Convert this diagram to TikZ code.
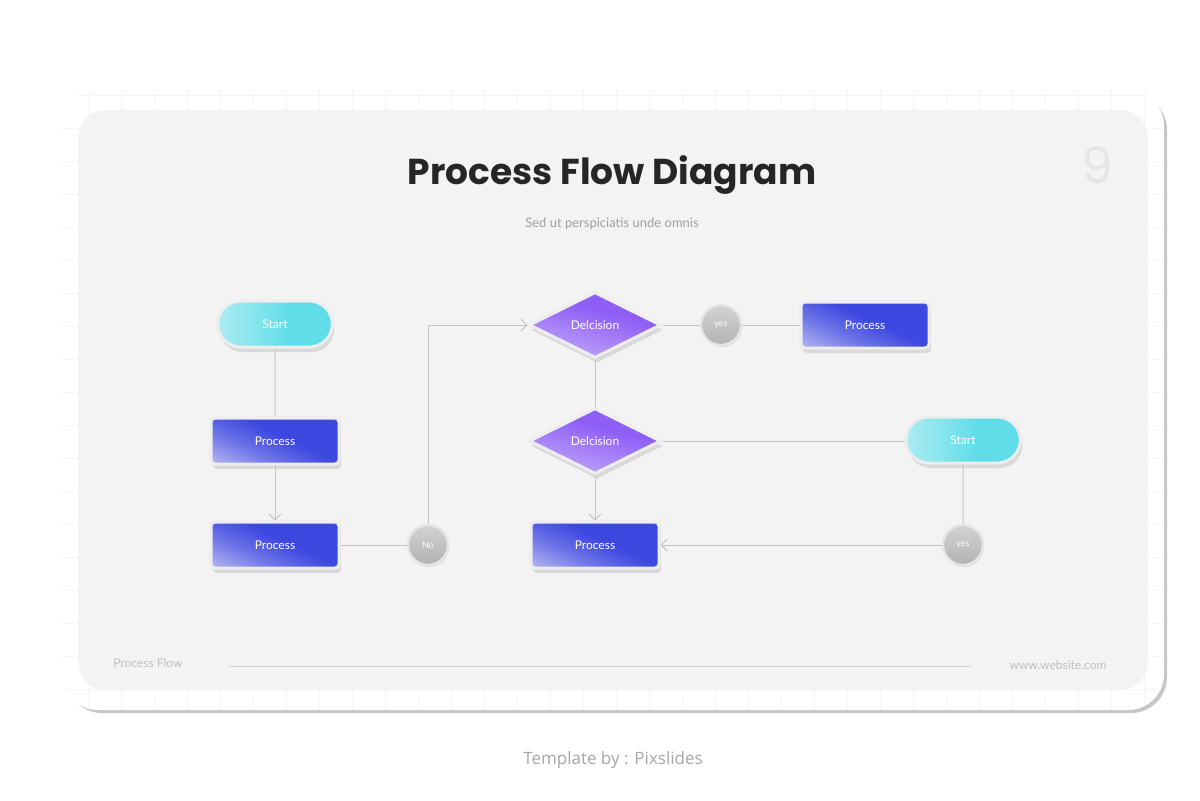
\documentclass[tikz,border=0pt]{standalone}
\usepackage{fontspec}
\setmainfont{Lato}
\newfontfamily\titlefont{Poppins}
\newfontfamily\footfont{Open Sans}
\usetikzlibrary{shapes.geometric,shapes.misc,shadows,arrows.meta,positioning}
\definecolor{cyanA}{HTML}{5FDDE8}
\definecolor{cyanB}{HTML}{E8F8FA}
\definecolor{blueA}{HTML}{3D48E0}
\definecolor{blueB}{HTML}{F2F0FA}
\definecolor{violA}{HTML}{8E5EF6}
\definecolor{violB}{HTML}{E8E0FC}
\definecolor{wire}{HTML}{C4C4C4}
\pgfdeclareverticalshading{procshade}{100bp}{color(0bp)=(blueB); color(38bp)=(blueA!75!blueB); color(55bp)=(blueA); color(100bp)=(blueA)}
\pgfdeclarehorizontalshading{startshade}{100bp}{color(0bp)=(cyanB); color(40bp)=(cyanA!70!cyanB); color(56bp)=(cyanA); color(100bp)=(cyanA)}
\pgfdeclareverticalshading{decshade}{100bp}{color(0bp)=(violB); color(35bp)=(violA!60!violB); color(60bp)=(violA); color(100bp)=(violA)}
\tikzset{
  base/.style={draw=white!93!black, line width=1.5pt, text=white,
    font=\fontsize{6}{7}\selectfont, drop shadow={shadow xshift=1pt, shadow yshift=-2.5pt, opacity=0.22}},
  startbox/.style={base, rounded rectangle, minimum width=64pt, minimum height=23pt,
    shading=startshade, shading angle=0},
  procbox/.style={base, rectangle, rounded corners=2pt, minimum width=64pt, minimum height=23pt,
    shading=procshade, shading angle=-25},
  decbox/.style={base, diamond, aspect=2, inner sep=0pt, minimum width=66pt, minimum height=33pt,
    shading=decshade, shading angle=-15},
  tagdot/.style={circle, minimum size=20pt, inner sep=0pt, draw=white!90!black, line width=1.2pt,
    top color=gray!35, bottom color=gray!60, text=white, font=\fontsize{4.5}{5}\selectfont,
    drop shadow={shadow xshift=0.5pt, shadow yshift=-1pt, opacity=0.2}},
  link/.style={draw=wire, line width=0.5pt},
  arr/.style={link, ->, >={Straight Barb[length=3pt,width=6pt]}}
}
\begin{document}
\begin{tikzpicture}[x=0.5pt,y=-0.5pt]
  \useasboundingbox (0,0) rectangle (1200,800);
  \fill[white] (0,0) rectangle (1200,800);
  % card
  \fill[gray!45, rounded corners=18pt] (66,94) rectangle (1167,713);
  \fill[white, rounded corners=18pt] (62,90) rectangle (1164,710);
  \begin{scope}
    \clip[rounded corners=18pt] (62,90) rectangle (1164,710);
    \foreach \gx in {88,121,...,1164} \draw[gray!8] (\gx,90) -- (\gx,710);
    \foreach \gy in {95,128,...,710} \draw[gray!8] (62,\gy) -- (1164,\gy);
  \end{scope}
  \fill[gray!10, opacity=0.9, rounded corners=14pt] (78,110) rectangle (1148,690);
  % texts
  \node (title) at (612,175) {\titlefont\bfseries\fontsize{18}{21}\selectfont\color{black!85} Process Flow Diagram};
  \node[text=gray!75, font=\fontsize{6.5}{8}\selectfont] (sub) at (612,224) {Sed ut perspiciatis unde omnis};
  \node[text=gray!20, font=\titlefont\fontsize{25}{28}\selectfont] (num) at (1097,165) {9};
  \node[text=gray!50, font=\fontsize{6}{7}\selectfont] (foot1) at (148,663) {Process Flow};
  \node[text=gray!50, font=\fontsize{6}{7}\selectfont] (foot2) at (1058,665) {www.website.com};
  \draw[gray!35, line width=0.4pt] (229,666) -- (971,666);
  \node[text=gray!70, font=\footfont\fontsize{8.5}{10}\selectfont] (credit) at (613,760) {Template by : Pixslides};
  % nodes
  \node[startbox] (start1) at (275,324) {Start};
  \node[procbox] (proc1) at (275,441) {Process};
  \node[procbox] (proc2) at (275,545) {Process};
  \node[tagdot] (no) at (428,545) {No};
  \node[decbox] (dec1) at (595,325) {Delcision};
  \node[tagdot] (yes1) at (721,325) {yes};
  \node[procbox] (proc3) at (865,325) {Process};
  \node[decbox] (dec2) at (595,441) {Delcision};
  \node[startbox] (start2) at (963,440) {Start};
  \node[tagdot] (yes2) at (963,545) {yes};
  \node[procbox] (proc4) at (595,545) {Process};
  % connectors
  \draw[link] (start1) -- (proc1);
  \draw[arr] (proc1) -- (proc2);
  \draw[link] (proc2) -- (no);
  \draw[arr] (no) |- (dec1);
  \draw[link] (dec1) -- (yes1);
  \draw[link] (yes1) -- (proc3);
  \draw[link] (dec1) -- (dec2);
  \draw[arr] (dec2) -- (proc4);
  \draw[link] (dec2) -- (dec2 -| start2.west);
  \draw[link] (start2) -- (yes2);
  \draw[arr] (yes2) -- (proc4);
\end{tikzpicture}
\end{document}
